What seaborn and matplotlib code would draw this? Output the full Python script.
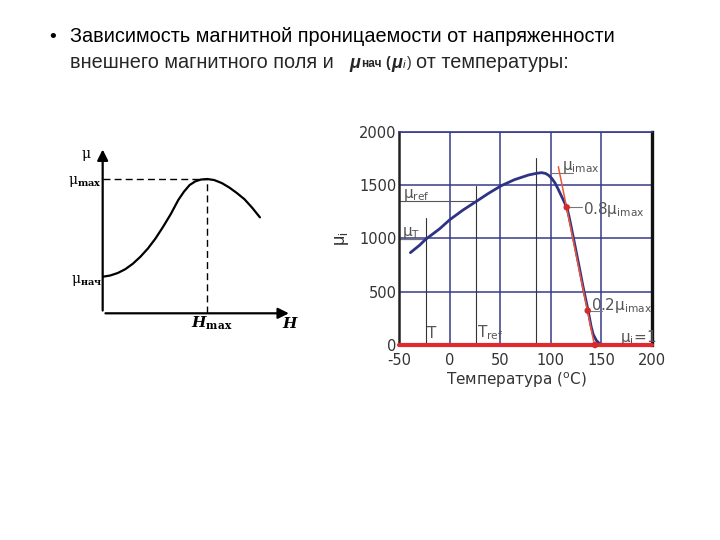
import numpy as np
import pandas as pd
import matplotlib
matplotlib.use('Agg')
import matplotlib.pyplot as plt
import seaborn as sns

# left sketch: mu versus H (arbitrary units)
H_curve = [0.03, 0.4, 0.8, 1.2, 1.6, 2.0, 2.4, 2.8, 3.2, 3.6, 4.0, 4.3, 4.6, 4.9, 5.2, 5.54,
           5.9, 6.3, 6.7, 7.1, 7.5, 7.9, 8.32]
mu_curve = [2.2, 2.27, 2.42, 2.65, 2.98, 3.4, 3.9, 4.5, 5.2, 5.95, 6.8, 7.3, 7.7, 7.92, 8.03, 8.06,
            8.0, 7.82, 7.55, 7.22, 6.85, 6.35, 5.76]
H_max = 5.54
mu_max = 8.06

# right chart: initial permeability versus temperature
temp = [-39, -30, -24, -10, 0, 13, 26, 38, 51, 64, 78, 86, 91, 95, 98, 101, 104, 107, 110, 113,
        115, 116.5, 118, 120, 124, 128, 132, 137, 140, 142, 145, 148, 152]
mu_i = [866, 935, 990, 1090, 1175, 1265, 1345, 1420, 1494, 1550, 1594, 1610, 1616, 1608, 1590,
        1562, 1522, 1468, 1408, 1348, 1308, 1268, 1208, 1118, 930, 740, 545, 322, 172, 100, 45,
        15, 0]
tangent_t = [107.5, 143.2]
tangent_mu = [1672, 0]
marker_t = [115.8, 136.6, 143.8]
marker_mu = [1291, 322, 0]
T_point, mu_T = -23.6, 990
T_ref, mu_ref = 25.6, 1350
T_mark3, mu_mark3 = 85.4, 1750
mu_imax = 1615
x_ticks = [-50, 0, 50, 100, 150, 200]
y_ticks = [0, 500, 1000, 1500, 2000]

sns.set_theme(style='white')
plt.rcParams['font.family'] = ['Liberation Sans', 'DejaVu Sans']
plt.rcParams['mathtext.fontset'] = 'dejavusans'
plt.rcParams['axes.unicode_minus'] = False

fig = plt.figure(figsize=(7.2, 5.4), dpi=100)
fig.patch.set_facecolor('white')


def px(x, y):
    return x / 720, 1 - y / 540


# heading
fig.text(*px(53, 37), '•', fontsize=14, ha='center', va='center', color='black')
fig.text(*px(70, 36), 'Зависимость магнитной проницаемости от напряженности',
         fontsize=14.3, ha='left', va='center', color='black')
fig.text(*px(70, 63), 'внешнего магнитного поля и', fontsize=14.3, ha='left', va='center')
fig.text(*px(349, 63), 'μ', fontsize=13, fontweight='bold', fontstyle='italic', ha='left', va='center')
fig.text(*px(361, 64), 'нач', fontsize=8.5, fontweight='bold', ha='left', va='center')
fig.text(*px(385, 63), '(', fontsize=10, fontweight='bold', ha='left', va='center')
fig.text(*px(391, 63), 'μ', fontsize=13, fontweight='bold', fontstyle='italic', ha='left', va='center')
fig.text(*px(403, 65), 'i', fontsize=8, fontstyle='italic', ha='left', va='center')
fig.text(*px(407, 63), ')', fontsize=10, ha='left', va='center')
fig.text(*px(416, 63), 'от температуры:', fontsize=14.3, ha='left', va='center')

# ---- left sketch ----
ax1 = fig.add_axes([0.1426, 0.4198, 0.2625, 0.3085])
ax1.set_xlim(0, 10)
ax1.set_ylim(0, 10)
ax1.axis('off')
ax1.annotate('', xy=(10, 0), xytext=(0, 0),
             arrowprops=dict(arrowstyle='-|>', color='black', lw=1.6, mutation_scale=16),
             annotation_clip=False)
ax1.annotate('', xy=(0, 10), xytext=(0, 0),
             arrowprops=dict(arrowstyle='-|>', color='black', lw=1.6, mutation_scale=16),
             annotation_clip=False)
sns.lineplot(x=H_curve, y=mu_curve, ax=ax1, color='black', lw=1.6, sort=False)
ax1.plot([0, H_max], [mu_max, mu_max], color='black', lw=1, ls=(0, (5, 3)))
ax1.plot([H_max, H_max], [0, mu_max], color='black', lw=1, ls=(0, (5, 3)))

serif = dict(family='DejaVu Serif', math_fontfamily='dejavuserif', color='black')
fig.text(*px(86, 154), 'μ', fontsize=10, ha='center', va='center', **serif)
fig.text(*px(102, 181), r'μ$_{\mathbf{max}}$', fontsize=10, ha='right', va='center', **serif)
fig.text(*px(102, 280), r'μ$_{\mathbf{нач}}$', fontsize=10, ha='right', va='center', **serif)
fig.text(*px(191, 323), r'$\boldsymbol{H}_{\mathbf{max}}$', fontsize=11, ha='left', va='center', **serif)
fig.text(*px(282, 323), r'$\boldsymbol{H}$', fontsize=11, ha='left', va='center', **serif)

# ---- right chart ----
navy = '#353a8c'
red = '#e02a2f'
gray = '#555555'
ax2 = fig.add_axes([0.5546, 0.3611, 0.3506, 0.395])
ax2.set_xlim(-50, 200)
ax2.set_ylim(0, 2000)
ax2.set_xticks(x_ticks)
ax2.set_yticks(y_ticks)
ax2.grid(True, color=navy, lw=1.1)
ax2.set_axisbelow(True)
ax2.spines['top'].set_color(navy)
ax2.spines['top'].set_linewidth(1.2)
ax2.spines['left'].set_color('#222222')
ax2.spines['left'].set_linewidth(1.8)
ax2.spines['right'].set_color('#111111')
ax2.spines['right'].set_linewidth(2.4)
ax2.spines['bottom'].set_visible(False)
ax2.tick_params(axis='x', length=0, labelsize=10.5, labelcolor='#333333', pad=6)
ax2.tick_params(axis='y', length=0, labelsize=10.5, labelcolor='#333333', pad=2)
for t in ax2.get_xticklabels() + ax2.get_yticklabels():
    t.set_family('DejaVu Sans')

# helper lines
ax2.plot([T_point, T_point], [0, 1190], color='#333333', lw=0.8)
ax2.plot([T_ref, T_ref], [0, 1494], color='#333333', lw=0.8)
ax2.plot([T_mark3, T_mark3], [0, mu_mark3], color='#333333', lw=0.8)
ax2.plot([-50, T_point], [mu_T, mu_T], color='#777777', lw=0.9)
ax2.plot([-50, T_ref], [mu_ref, mu_ref], color='#555555', lw=0.8)
ax2.plot([100, 122], [mu_imax, mu_imax], color='#777777', lw=0.8)
ax2.plot([marker_t[0], 131], [marker_mu[0], marker_mu[0]], color='#777777', lw=0.8)
ax2.plot([134, 150.5], [marker_mu[1], marker_mu[1]], color='#777777', lw=0.8)

sns.lineplot(x=temp, y=mu_i, ax=ax2, color='#2f3384', lw=2, sort=False)
sns.lineplot(x=tangent_t, y=tangent_mu, ax=ax2, color='#f0553a', lw=1.1, sort=False)
ax2.axhline(0, color=red, lw=3, clip_on=False, zorder=5)
sns.scatterplot(x=marker_t, y=marker_mu, ax=ax2, color='#d42a2a', s=22, edgecolor='none',
                zorder=6, clip_on=False)

lab = dict(color=gray, fontsize=11, va='center', ha='left', family='DejaVu Sans')
ax2.text(111.5, 1670, r'$\mathregular{\mu_{imax}}$', **lab)
ax2.text(131.6, 1270, r'$\mathregular{0.8\mu_{imax}}$', **lab)
ax2.text(139.9, 375, r'$\mathregular{0.2\mu_{imax}}$', **lab)
ax2.text(168.5, 75, r'$\mathregular{\mu_i}$=1', **lab)
ax2.text(-46.5, 1410, r'$\mathregular{\mu_{ref}}$', **lab)
ax2.text(-47.5, 1050, r'$\mathregular{\mu_T}$', **lab)
ax2.text(-22.3, 112, 'T', **lab)
ax2.text(27.3, 112, r'$\mathregular{T_{ref}}$', **lab)

ax2.set_xlabel('Температура ($^{\\rm o}$C)', fontsize=11, color='#333333',
               family='DejaVu Sans')
ax2.xaxis.set_label_coords(0.462, -0.12)
ax2.set_ylabel(r'$\mathregular{\mu_i}$', fontsize=13, color='#333333')
ax2.yaxis.set_label_coords(-0.19, 0.5)

fig.savefig('out.png', dpi=100)
